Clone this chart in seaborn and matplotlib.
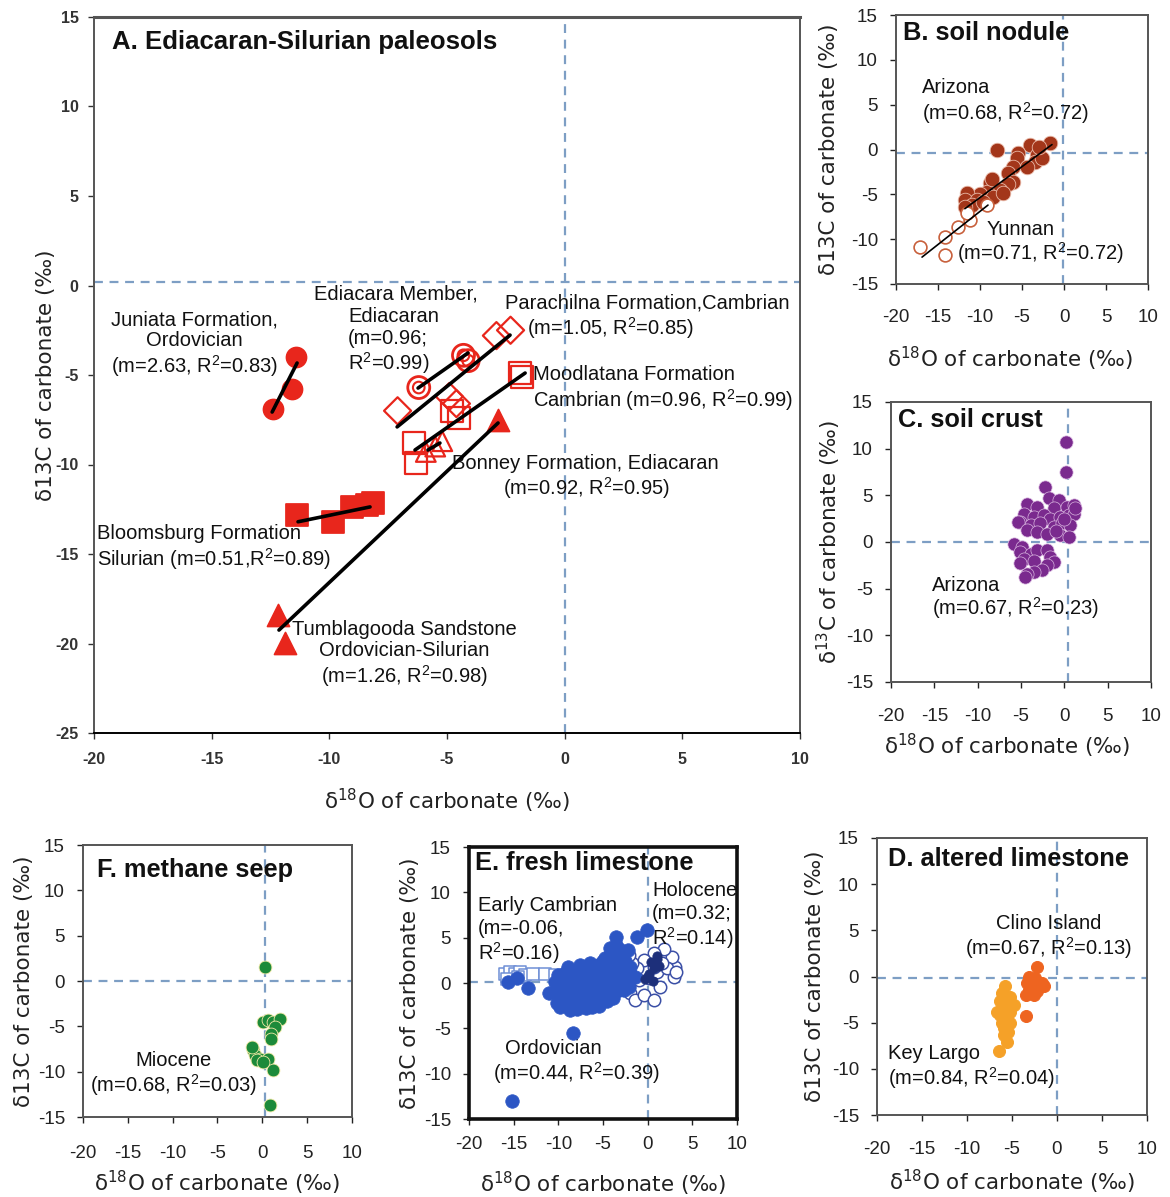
import matplotlib
matplotlib.use("Agg")
import matplotlib.pyplot as plt
import seaborn as sns
import pandas as pd
from matplotlib import font_manager

sns.set_style("white")
plt.rcParams['font.family'] = ['Liberation Sans', 'DejaVu Sans']
plt.rcParams['mathtext.default'] = 'regular'
plt.rcParams['axes.unicode_minus'] = False

installed = {f.name for f in font_manager.fontManager.ttflist}
NARROW = 'Liberation Sans Narrow' if 'Liberation Sans Narrow' in installed else 'Liberation Sans'
nsize = 16.5 if NARROW == 'Liberation Sans Narrow' else 14.5
LABELFONT = ['DejaVu Sans']

W, H = 1170, 1197

# ---------------- panel A : Ediacaran-Silurian paleosols ----------------
juniata_x = [-11.4, -11.6, -12.4]
juniata_y = [-4.0, -5.8, -6.9]
ediacara_x = [-6.2, -4.3, -4.1]
ediacara_y = [-5.7, -3.9, -4.2]
parachilna_x = [-2.3, -2.9, -7.1, -4.9, -4.6]
parachilna_y = [-2.5, -2.8, -7.0, -6.2, -6.6]
moodlatana_x = [-1.9, -1.8, -6.4, -6.3, -4.8, -4.5]
moodlatana_y = [-4.9, -5.1, -8.8, -9.9, -7.0, -7.4]
bonney_x = [-5.9, -5.5, -5.2]
bonney_y = [-9.3, -9.0, -8.7]
bloomsburg_x = [-11.37, -9.84, -9.03, -8.4, -8.14]
bloomsburg_y = [-12.82, -13.2, -12.4, -12.26, -12.15]
tumbla_x = [-12.18, -11.88, -2.83]
tumbla_y = [-18.4, -19.97, -7.5]

# fitted lines (start/end) as drawn in the figure
a_fit_x = {'Juniata': [-12.43, -11.37], 'Ediacara': [-6.23, -4.11],
           'Parachilna': [-7.12, -2.32], 'Moodlatana': [-6.36, -1.68],
           'Bonney': [-5.81, -5.3], 'Bloomsburg': [-11.33, -8.27],
           'Tumblagooda': [-12.14, -2.83]}
a_fit_y = {'Juniata': [-7.07, -4.33], 'Ediacara': [-5.73, -3.77],
           'Parachilna': [-7.9, -2.77], 'Moodlatana': [-9.19, -4.89],
           'Bonney': [-9.19, -8.8], 'Bloomsburg': [-13.2, -12.37],
           'Tumblagooda': [-19.25, -7.68]}

# ---------------- panel B : soil nodule ----------------
ariz_x = [-7.98, -1.67, -4.05, -5.48, -3.2, -5.6, -3.45, -6.07, -4.4, -6.67, -6.07, -8.8, -6.67, -7.6,
          -9.17, -10.0, -11.55, -11.8, -10.4, -8.45, -7.26, -10.95, -11.8, -9.64, -8.6, -2.6, -3.0]
ariz_y = [0.0, 0.78, 0.55, -0.34, -0.57, -0.9, -1.35, -1.9, -2.0, -2.58, -3.6, -3.7, -3.9, -4.5,
          -4.7, -5.0, -4.8, -5.6, -5.6, -5.27, -4.8, -6.2, -6.4, -5.9, -3.3, -1.0, 0.3]
yunnan_x = [-17.1, -14.2, -14.2, -12.6, -11.2, -11.55, -9.2]
yunnan_y = [-10.9, -11.8, -9.75, -8.6, -7.85, -7.1, -6.2]
b_fit_x = {'Arizona': [-11.8, -1.43], 'Yunnan': [-16.9, -9.05]}
b_fit_y = {'Arizona': [-6.6, 0.55], 'Yunnan': [-12.0, -6.2]}

# ---------------- panel C : soil crust ----------------
crust_x = [0.23, 0.23, -2.2, -1.8, -0.65, -4.3, -3.15, -1.2, 0.3, 1.1, -4.7, -3.5, -2.4, -1.6, -0.5, 0.5,
           1.1, -5.1, -3.9, -2.8, -1.2, -0.3, 0.7, -5.3, -4.3, -3.15, -2.0, -0.5, 0.5, -5.85, -4.9, -5.1,
           -3.9, -3.15, -4.7, -3.5, -2.0, -1.6, -1.2, -2.0, -2.6, -3.5, -4.3, -4.5, -5.1, 0.0, 1.2, -1.0]
crust_y = [10.7, 7.5, 5.9, 4.7, 4.5, 4.1, 3.8, 3.6, 3.8, 4.0, 3.0, 2.7, 2.9, 2.5, 2.7, 2.9,
           3.0, 2.15, 1.8, 2.0, 1.6, 2.0, 1.8, 2.15, 1.25, 1.1, 0.9, 0.7, 0.5, -0.2, -0.5, -1.1,
           -1.25, -0.9, -1.8, -2.0, -0.9, -1.6, -2.15, -2.5, -3.0, -3.2, -3.4, -3.8, -2.3, 2.5, 3.6, 1.2]

# ---------------- panel D : altered limestone ----------------
keylargo_x = [-5.74, -6.1, -5.2, -6.3, -5.4, -4.8, -5.9, -5.2, -6.3, -5.55, -6.1, -5.2, -5.9, -5.4,
              -5.9, -5.55, -6.5, -6.67]
keylargo_y = [-1.08, -1.8, -2.17, -2.7, -2.9, -3.07, -3.4, -3.8, -4.16, -4.5, -5.06, -5.06, -5.6, -5.96,
              -6.3, -7.05, -8.1, -3.8]
clino_x = [-2.2, -3.15, -2.4, -3.3, -2.6, -1.67, -1.5, -3.15, -2.2, -3.5, -2.6, -3.5]
clino_y = [1.08, 0.0, -0.18, -0.72, -0.9, -0.72, -1.08, -1.45, -1.6, -2.0, -2.0, -4.3]

# ---------------- panel E : fresh limestone ----------------
ordo_x = [-3.6, -4.2, -3.5, -3.2, -4.8, -4.0, -3.3, -2.8, -2.2,
          -8.9, -7.6, -6.4, -5.6, -5.0, -4.4, -3.7, -3.0, -2.5, -2.0,
          -10.0, -9.3, -8.5, -7.8, -7.0, -6.3, -5.6, -4.8, -4.1, -3.4, -2.7, -1.9, -1.4,
          -10.4, -9.7, -9.0, -8.3, -7.6, -6.9, -6.2, -5.5, -4.8, -4.1, -3.4, -2.7, -2.1,
          -11.1, -10.3, -9.5, -8.8, -8.1, -7.4, -6.7, -6.0, -5.3, -4.6, -3.9, -3.2, -2.7,
          -10.2, -9.5, -8.8, -8.1, -7.4, -6.7, -6.0, -5.3, -4.6, -3.9,
          -9.8, -8.7, -7.9, -6.9, -6.2, -5.4,
          -8.4, -15.2, -1.2, -0.05, -13.4, -15.6, -14.6]
ordo_y = [5.1, 3.9, 4.2, 3.7, 2.8, 3.1, 2.9, 3.2, 3.6,
          1.8, 2.0, 2.2, 2.0, 2.4, 2.1, 2.3, 2.0, 2.4, 1.8,
          0.9, 1.1, 1.0, 1.2, 1.0, 1.3, 1.1, 1.4, 1.0, 1.2, 0.9, 0.8, 0.7,
          0.1, -0.1, 0.2, 0.0, -0.2, 0.1, 0.0, 0.2, -0.1, 0.2, -0.1, 0.1, -0.4,
          -1.1, -0.9, -1.1, -0.9, -1.2, -1.0, -1.1, -0.9, -1.2, -0.9, -1.0, -0.8, -0.8,
          -2.2, -2.0, -2.3, -2.0, -2.2, -2.1, -2.3, -1.9, -2.0, -1.7,
          -2.7, -3.0, -2.9, -2.8, -2.6, -2.5,
          -5.5, -13.0, 5.1, 5.8, -0.6, 0.15, 0.5]
holo_x = [-1.95, -1.4, -0.45, 0.7, 1.4, 2.9, 3.1, 2.7, 1.8, 0.7, -0.45, -1.2, -1.0, 0.1, 1.05,
          2.2, 3.2, 1.6, 0.7, -1.8, -2.1]
holo_y = [-1.1, -1.9, -1.3, -1.9, -0.4, 0.7, 1.8, 2.9, 3.8, 3.3, 2.5, 1.6, 0.33, 0.5, 1.25,
          1.6, 1.25, 2.2, 1.8, 2.2, 3.1]
holo_dark_x = [0.4, 1.0, 0.7, 1.3, 0.2, -0.3, 0.6, 1.1]
holo_dark_y = [2.3, 2.6, 1.6, 1.9, 1.0, 0.4, 0.2, 3.0]
cambr_x = [-16.0, -15.4, -14.9, -14.3, -13.7, -12.8, -11.5, -10.4, -15.8, -14.5]
cambr_y = [1.0, 1.25, 1.0, 1.25, 0.9, 1.0, 1.0, 0.9, 0.4, 0.7]

# ---------------- panel F : methane seep ----------------
seep_x = [0.28, 0.1, 0.65, 1.2, 1.95, 1.4, 1.0, 1.0, -1.0, -0.8, -0.3, -0.65, 0.65, 1.2, 0.85, -1.2, 0.1]
seep_y = [1.55, -4.5, -4.3, -4.5, -4.15, -5.1, -5.8, -6.4, -7.65, -8.2, -8.6, -8.75, -8.6, -9.85, -13.7,
          -7.3, -8.9]

# reference (dashed) line positions per panel: (x, y)
ref_lines = {'A': (0.0, 0.2), 'B': (-0.1, -0.4), 'C': (0.4, 0.0),
             'D': (0.0, -0.2), 'E': (0.0, 0.15), 'F': (0.3, 0.0)}

RED = '#e8261c'
DASH = '#7d9ec4'

fig = plt.figure(figsize=(W / 100, H / 100), dpi=100)


def rect(l, r, t, b):
    return [l / W, 1 - b / H, (r - l) / W, (b - t) / H]


def pts(ax, x, y, **kw):
    sns.scatterplot(data=pd.DataFrame({'x': x, 'y': y}), x='x', y='y', ax=ax, legend=False, **kw)


def fitline(ax, xs, ys, lw):
    sns.lineplot(x=xs, y=ys, color='black', lw=lw, ax=ax, sort=False, estimator=None)
    ax.lines[-1].set_zorder(5)


def frame(ax, key, ylim, xpad, ylabxy, xlabxy, ylab='δ13C of carbonate (‰)'):
    ax.set_xlim(-20, 10)
    ax.set_ylim(*ylim)
    ax.set_xticks(range(-20, 11, 5))
    ax.set_yticks(range(ylim[0], ylim[1] + 1, 5))
    xr, yr = ref_lines[key]
    ax.axvline(xr, color=DASH, ls=(0, (4, 3)), lw=1.6, zorder=0)
    ax.axhline(yr, color=DASH, ls=(0, (4, 3)), lw=1.6, zorder=0)
    ax.tick_params(axis='both', which='major', direction='out', length=4, width=1,
                   bottom=True, left=True, labelsize=13.5, colors='#222')
    ax.tick_params(axis='x', pad=xpad)
    ax.tick_params(axis='y', pad=9)
    for s in ax.spines.values():
        s.set_color('#555')
        s.set_linewidth(1.4)
    ax.set_xlabel('δ$^{18}$O of carbonate (‰)', fontsize=15.5, family=LABELFONT, color='#222')
    ax.set_ylabel(ylab, fontsize=15.5, family=LABELFONT, color='#222')
    ax.yaxis.set_label_coords(*ylabxy)
    ax.xaxis.set_label_coords(*xlabxy)


def bold_title(ax, txt, dx, dy):
    # dx, dy: offset in pixels from the top-left corner of the axes
    bb = ax.get_position()
    ax.text(dx / (bb.width * W), 1 - dy / (bb.height * H), txt, transform=ax.transAxes,
            fontsize=18.3, fontweight='bold', va='center', ha='left', color='#111')


# ---- A ----
axA = fig.add_axes(rect(94, 800, 17, 733))
frame(axA, 'A', (-25, 15), 10, (-0.054, 0.5), (0.5, -0.075))
axA.tick_params(labelsize=11.5, colors='#333')
axA.tick_params(axis='y', pad=7)
for lab in axA.get_xticklabels() + axA.get_yticklabels():
    lab.set_family(NARROW)
    lab.set_fontweight('bold')
axA.spines['bottom'].set_color('black')
axA.spines['top'].set_linewidth(2.2)

pts(axA, juniata_x, juniata_y, marker='o', s=210, color=RED, edgecolor=RED, zorder=3)
pts(axA, ediacara_x, ediacara_y, marker='o', s=250, facecolor='none', edgecolor=RED, linewidth=2, zorder=3)
pts(axA, ediacara_x, ediacara_y, marker='o', s=70, facecolor='none', edgecolor=RED, linewidth=1.5, zorder=3)
pts(axA, parachilna_x, parachilna_y, marker='D', s=190, facecolor='none', edgecolor=RED, linewidth=1.6, zorder=3)
pts(axA, moodlatana_x, moodlatana_y, marker='s', s=250, facecolor='none', edgecolor=RED, linewidth=1.6, zorder=3)
pts(axA, bonney_x, bonney_y, marker='^', s=200, facecolor='none', edgecolor=RED, linewidth=1.6, zorder=3)
pts(axA, bloomsburg_x, bloomsburg_y, marker='s', s=250, color=RED, edgecolor=RED, zorder=3)
pts(axA, tumbla_x, tumbla_y, marker='^', s=250, color=RED, edgecolor=RED, zorder=3)
for k in a_fit_x:
    fitline(axA, a_fit_x[k], a_fit_y[k], 2.6)

axA.text(18 / 706, 1 - 25 / 716, 'A. Ediacaran-Silurian paleosols', transform=axA.transAxes, family=NARROW,
         fontsize=nsize + 4, fontweight='bold', va='center', ha='left', color='#111')
ak = dict(family=NARROW, fontsize=nsize, color='#111', linespacing=1.15, va='center')
axA.text(-15.75, -3.3, 'Juniata Formation,\nOrdovician\n(m=2.63, R$^2$=0.83)', ha='center', **ak)
axA.text(-10.65, -0.45, 'Ediacara Member,', ha='left', **ak)
axA.text(-9.2, -3.15, 'Ediacaran\n(m=0.96;\nR$^2$=0.99)', ha='left', **ak)
axA.text(-2.53, -0.98, 'Parachilna Formation,Cambrian', ha='left', **ak)
axA.text(-1.6, -2.37, '(m=1.05, R$^2$=0.85)', ha='left', **ak)
axA.text(-1.35, -5.78, 'Moodlatana Formation\nCambrian (m=0.96, R$^2$=0.99)', ha='left', **ak)
axA.text(-4.79, -9.92, 'Bonney Formation, Ediacaran', ha='left', **ak)
axA.text(-2.62, -11.3, '(m=0.92, R$^2$=0.95)', ha='left', **ak)
axA.text(-19.87, -14.66, 'Bloomsburg Formation\nSilurian (m=0.51,R$^2$=0.89)', ha='left', **ak)
axA.text(-6.8, -20.6, 'Tumblagooda Sandstone\nOrdovician-Silurian\n(m=1.26, R$^2$=0.98)', ha='center', **ak)

sk = dict(fontsize=14.5, color='#111', linespacing=1.1, va='center')

# ---- B ----
axB = fig.add_axes(rect(896, 1148, 15, 284))
frame(axB, 'B', (-15, 15), 14, (-0.226, 0.5), (0.452, -0.227))
pts(axB, ariz_x, ariz_y, marker='o', s=110, color='#a3361a', edgecolor='#e9b9a8', linewidth=0.6, zorder=3)
pts(axB, yunnan_x, yunnan_y, marker='o', s=85, facecolor='white', edgecolor='#c8603c', linewidth=1.2, zorder=3)
for k in b_fit_x:
    fitline(axB, b_fit_x[k], b_fit_y[k], 1.2)
bold_title(axB, 'B. soil nodule', 7, 18)
axB.text(-16.9, 6.9, 'Arizona', ha='left', **sk)
axB.text(-16.9, 4.1, '(m=0.68, R$^2$=0.72)', ha='left', **sk)
axB.text(-9.2, -8.9, 'Yunnan', ha='left', **sk)
axB.text(-12.7, -11.5, '(m=0.71, R$^2$=0.72)', ha='left', **sk)

# ---- C ----
axC = fig.add_axes(rect(891, 1151, 402, 682))
frame(axC, 'C', (-15, 15), 15, (-0.185, 0.5), (0.446, -0.178), ylab='δ$^{13}$C of carbonate (‰)')
pts(axC, crust_x, crust_y, marker='o', s=90, color='#7a2a8e', edgecolor='#d9b6e0', linewidth=0.5, zorder=3)
bold_title(axC, 'C. soil crust', 7, 18)
axC.text(-15.3, -4.7, 'Arizona', ha='left', **sk)
axC.text(-15.3, -7.1, '(m=0.67, R$^2$=0.23)', ha='left', **sk)

# ---- F ----
axF = fig.add_axes(rect(83, 352, 845, 1117))
frame(axF, 'F', (-15, 15), 16, (-0.182, 0.5), (0.5, -0.19))
pts(axF, seep_x, seep_y, marker='o', s=85, color='#1c8a3a', edgecolor='#f2e9a6', linewidth=0.6, zorder=3)
bold_title(axF, 'F. methane seep', 14, 25)
axF.text(-9.9, -8.8, 'Miocene', ha='center', **sk)
axF.text(-9.9, -11.5, '(m=0.68, R$^2$=0.03)', ha='center', **sk)

# ---- E ----
axE = fig.add_axes(rect(469, 737, 847, 1119))
frame(axE, 'E', (-15, 15), 8, (-0.183, 0.5), (0.5, -0.185))
for s in axE.spines.values():
    s.set_color('#111')
    s.set_linewidth(2.6)
pts(axE, cambr_x, cambr_y, marker='s', s=70, facecolor='white', edgecolor='#6f8fd6', linewidth=1.1, zorder=3)
pts(axE, holo_x, holo_y, marker='o', s=80, facecolor='white', edgecolor='#3b4fa6', linewidth=1.1, zorder=3)
pts(axE, ordo_x, ordo_y, marker='o', s=95, color='#2c56c4', edgecolor='#2c56c4', linewidth=0.5, zorder=4)
pts(axE, holo_dark_x, holo_dark_y, marker='o', s=45, color='#1d2f7a', edgecolor='#1d2f7a', zorder=4)
bold_title(axE, 'E. fresh limestone', 6, 16)
axE.text(-19.0, 8.6, 'Early Cambrian', ha='left', **sk)
axE.text(-19.0, 6.0, '(m=-0.06,', ha='left', **sk)
axE.text(-19.0, 3.3, 'R$^2$=0.16)', ha='left', **sk)
axE.text(0.5, 10.2, 'Holocene', ha='left', **sk)
axE.text(0.5, 7.7, '(m=0.32;', ha='left', **sk)
axE.text(0.5, 5.0, 'R$^2$=0.14)', ha='left', **sk)
axE.text(-16.0, -7.2, 'Ordovician', ha='left', **sk)
axE.text(-17.3, -9.9, '(m=0.44, R$^2$=0.39)', ha='left', **sk)

# ---- D ----
axD = fig.add_axes(rect(877, 1147, 838, 1115))
frame(axD, 'D', (-15, 15), 15, (-0.193, 0.5), (0.5, -0.19))
pts(axD, keylargo_x, keylargo_y, marker='o', s=75, color='#f5a128', edgecolor='#f5a128', zorder=3)
pts(axD, clino_x, clino_y, marker='o', s=75, color='#ee6420', edgecolor='#ee6420', zorder=3)
bold_title(axD, 'D. altered limestone', 11, 21)
axD.text(-0.9, 5.7, 'Clino Island', ha='center', **sk)
axD.text(-0.9, 3.1, '(m=0.67, R$^2$=0.13)', ha='center', **sk)
axD.text(-18.8, -8.3, 'Key Largo', ha='left', **sk)
axD.text(-18.8, -11.0, '(m=0.84, R$^2$=0.04)', ha='left', **sk)

fig.savefig('out.png', dpi=100)
